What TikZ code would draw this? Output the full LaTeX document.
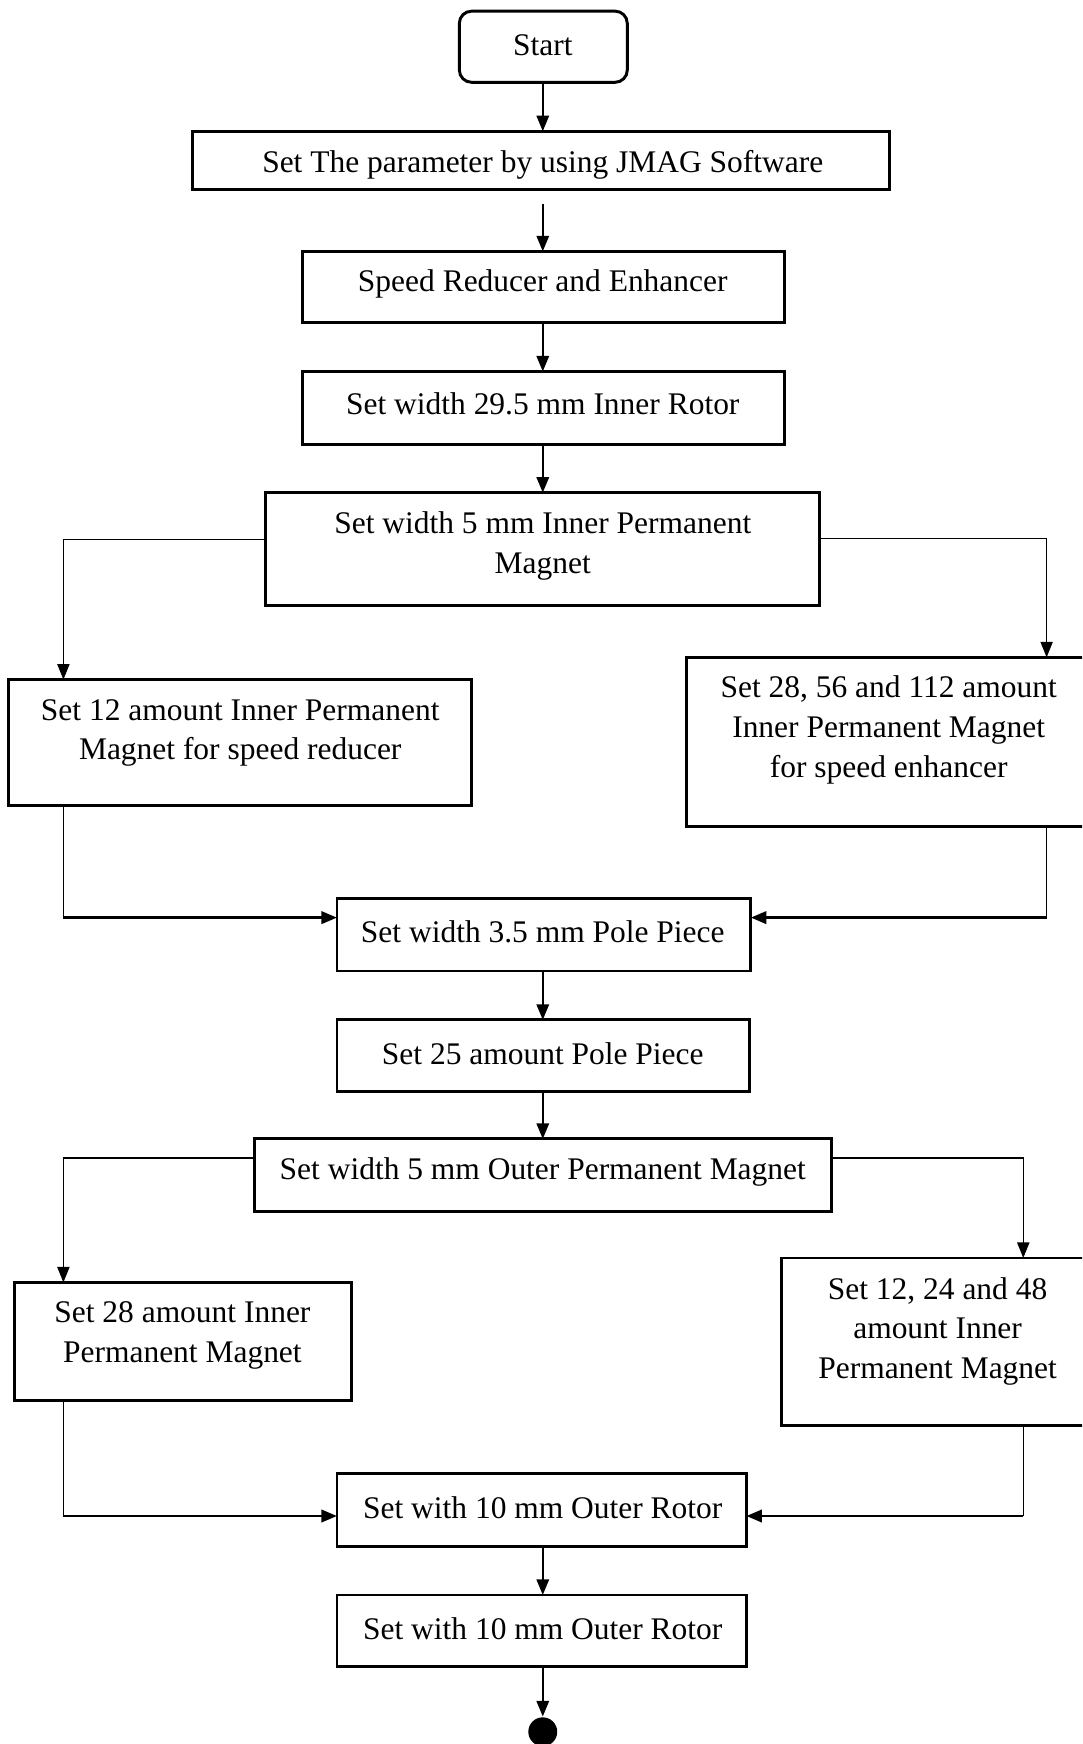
\documentclass[tikz,border=0pt]{standalone}
\usepackage{fontspec}
\setmainfont{Liberation Serif}
\usetikzlibrary{arrows.meta}
\begin{document}
\begin{tikzpicture}[x=0.1mm,y=-0.1mm,
  bx/.style={draw,line width=0.75pt,inner sep=0pt,outer sep=0pt,anchor=north west},
  txt/.style={inner sep=0pt,align=center,font=\fontsize{8.05}{10.2}\selectfont},
  tip/.style={-{Triangle[length=1.4mm,width=1.1mm]}},
  arr/.style={tip,line width=0.6pt},
  thn/.style={line width=0.35pt},
  tharr/.style={tip,line width=0.35pt},
  tkarr/.style={tip,line width=0.75pt}]
\useasboundingbox (0,0) rectangle (973,1568);
\clip (0,0) rectangle (973,1568);
% boxes
\node[bx,rounded corners=1.1mm,minimum width=15.1mm,minimum height=6.4mm] (b1) at (413,10) {};
\node[bx,minimum width=62.7mm,minimum height=5.2mm] (b2) at (173,118) {};
\node[bx,minimum width=43.3mm,minimum height=6.4mm] (b3) at (272,226) {};
\node[bx,minimum width=43.3mm,minimum height=6.6mm] (b4) at (272,334) {};
\node[bx,minimum width=49.8mm,minimum height=10.1mm] (b5) at (239,443) {};
\node[bx,minimum width=41.6mm,minimum height=11.3mm] (b6) at (8,611) {};
\node[bx,minimum width=36.4mm,minimum height=15.2mm] (b7) at (617,591) {};
\node[bx,minimum width=37.2mm,minimum height=6.5mm] (b8) at (303,808) {};
\node[bx,minimum width=37.1mm,minimum height=6.4mm] (b9) at (303,917) {};
\node[bx,minimum width=51.9mm,minimum height=6.5mm] (b10) at (229,1024) {};
\node[bx,minimum width=30.3mm,minimum height=10.6mm] (b11) at (13,1153) {};
\node[bx,minimum width=28mm,minimum height=15.1mm] (b12) at (703,1131) {};
\node[bx,minimum width=36.8mm,minimum height=6.5mm] (b13) at (303,1325) {};
\node[bx,minimum width=36.8mm,minimum height=6.4mm] (b14) at (303,1434) {};
\node[circle,fill,inner sep=0pt,minimum size=2.6mm] (end) at (488,1557) {};
% texts
\node[txt] (t1) at (488,41) {Start};
\node[txt] (t2) at (488,148) {Set The parameter by using JMAG Software};
\node[txt] (t3) at (488,255) {Speed Reducer and Enhancer};
\node[txt] (t4) at (488,363) {Set width 29.5 mm Inner Rotor};
\node[txt] (t5) at (488,491) {Set width 5 mm Inner Permanent\\Magnet};
\node[txt] (t6) at (216,659) {Set 12 amount Inner Permanent\\Magnet for speed reducer};
\node[txt] (t7) at (799,656) {Set 28, 56 and 112 amount\\Inner Permanent Magnet\\for speed enhancer};
\node[txt] (t8) at (488,838) {Set width 3.5 mm Pole Piece};
\node[txt] (t9) at (488,947) {Set 25 amount Pole Piece};
\node[txt] (t10) at (488,1054) {Set width 5 mm Outer Permanent Magnet};
\node[txt] (t11) at (164,1201) {Set 28 amount Inner\\Permanent Magnet};
\node[txt] (t12) at (843,1197) {Set 12, 24 and 48\\amount Inner\\Permanent Magnet};
\node[txt] (t13) at (488,1356) {Set with 10 mm Outer Rotor};
\node[txt] (t14) at (488,1464) {Set with 10 mm Outer Rotor};
% connectors
\coordinate (c2) at (488,183);
\coordinate (k1) at (57,825);
\coordinate (k2) at (941,825);
\coordinate (k3) at (57,1363);
\coordinate (k4) at (920,1363);
\draw[arr] (b1.south -| c2) -- (b2.north -| c2);
\draw[arr] (c2) -- (b3.north -| c2);
\draw[arr] (b3.south -| c2) -- (b4.north -| c2);
\draw[arr] (b4.south -| c2) -- (b5.north -| c2);
\draw[tharr] (b5.west |- 0,485) -| (b6.north west -| 57,0);
\draw[tharr] (b5.east |- 0,484) -| (b7.north west -| 941,0);
\draw[thn] (b6.south west -| 57,0) -- (k1);
\draw[tkarr] (k1) -- (b8.west |- 0,825);
\draw[thn] (b7.south west -| 941,0) -- (k2);
\draw[tkarr] (k2) -- (b8.east |- 0,825);
\draw[arr] (b8.south -| c2) -- (b9.north -| c2);
\draw[arr] (b9.south -| c2) -- (b10.north -| c2);
\draw[tharr] (b10.west |- 0,1041) -| (b11.north west -| 57,0);
\draw[tharr] (b10.east |- 0,1041) -| (b12.north west -| 920,0);
\draw[thn] (b11.south west -| 57,0) -- (k3);
\draw[tkarr] (k3) -- (b13.west |- 0,1363);
\draw[thn] (b12.south west -| 920,0) -- (k4);
\draw[tkarr] (k4) -- (b13.east |- 0,1363);
\draw[arr] (b13.south -| c2) -- (b14.north -| c2);
\draw[arr] (b14.south -| c2) -- (end.north);
\end{tikzpicture}
\end{document}
